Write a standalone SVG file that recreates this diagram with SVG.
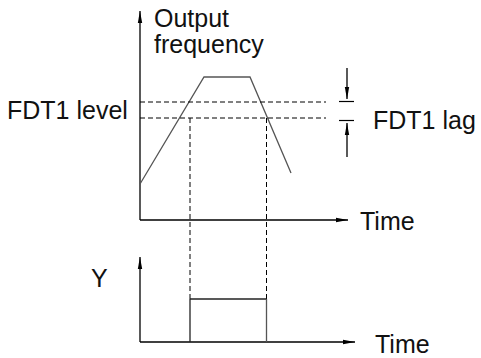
<svg xmlns="http://www.w3.org/2000/svg" width="481" height="358" viewBox="0 0 481 358">
<style>
  text { font-family: "Liberation Sans", Arial, sans-serif; font-size: 25px; fill: #111; }
  .axis { stroke: #000; stroke-width: 1.3; fill: none; }
  .curve { stroke: #555; stroke-width: 1.3; fill: none; }
  .dash { stroke: #000; stroke-width: 1; stroke-dasharray: 5 3; fill: none; }
  .pulse { stroke: #222; stroke-width: 1.3; fill: none; }
  .tick { stroke: #000; stroke-width: 1.2; }
</style>
<defs>
  <marker id="arr" markerWidth="12" markerHeight="6" refX="12" refY="3" orient="auto" markerUnits="userSpaceOnUse">
    <path d="M0,0.8 L12,3 L0,5.2 Z" fill="#000"/>
  </marker>
</defs>
<rect width="481" height="358" fill="#fff"/>
<g id="connectors">
  <line class="axis" x1="140" y1="220" x2="140" y2="11" marker-end="url(#arr)"/>
  <line class="axis" x1="140" y1="220" x2="348" y2="220" marker-end="url(#arr)"/>
  <line class="axis" x1="140" y1="342" x2="140" y2="257" marker-end="url(#arr)"/>
  <line class="axis" x1="140" y1="342" x2="355" y2="342" marker-end="url(#arr)"/>
  <polyline class="curve" points="140,184 204,77 250,77 291,173"/>
  <line class="dash" x1="140" y1="102" x2="326" y2="102"/>
  <line class="dash" x1="140" y1="118" x2="326" y2="118"/>
  <line class="dash" x1="190" y1="118" x2="190" y2="299"/>
  <line class="dash" x1="266.5" y1="118" x2="266.5" y2="299"/>
  <line class="pulse" x1="190" y1="342" x2="190" y2="299"/>
  <line class="pulse" x1="190" y1="299" x2="266.5" y2="299"/>
  <line class="curve" x1="266.5" y1="299" x2="266.5" y2="342"/>
  <line class="tick" x1="339" y1="101.5" x2="354" y2="101.5"/>
  <line class="tick" x1="339" y1="120.5" x2="354" y2="120.5"/>
  <line class="axis" x1="347" y1="68" x2="347" y2="99" marker-end="url(#arr)"/>
  <line class="axis" x1="347" y1="157" x2="347" y2="123" marker-end="url(#arr)"/>
</g>
<g id="label-output">
  <text x="154" y="27">Output</text>
  <text x="154" y="53">frequency</text>
</g>
<g id="label-level"><text x="7" y="119">FDT1 level</text></g>
<g id="label-lag"><text x="373" y="129">FDT1 lag</text></g>
<g id="label-time1"><text x="360" y="230">Time</text></g>
<g id="label-y"><text x="91" y="287">Y</text></g>
<g id="label-time2"><text x="375" y="353">Time</text></g>
</svg>
